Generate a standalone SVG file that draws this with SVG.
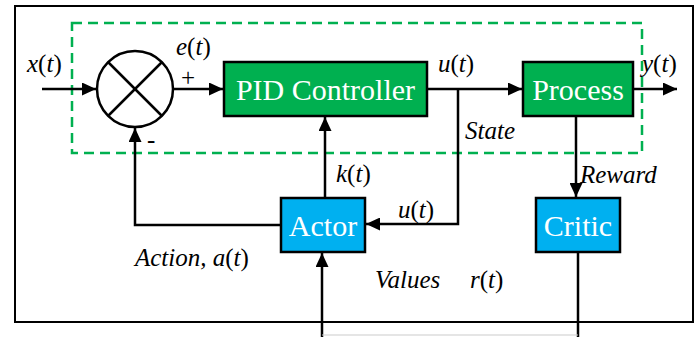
<svg xmlns="http://www.w3.org/2000/svg" width="700" height="337" viewBox="0 0 700 337">
<defs>
<marker id="ar" markerUnits="userSpaceOnUse" markerWidth="15" markerHeight="13" refX="14" refY="6.5" orient="auto">
<path d="M0,0 L14,6.5 L0,13 z" fill="#000"/>
</marker>
</defs>
<rect x="0" y="0" width="700" height="337" fill="#fff"/>
<rect x="15" y="6" width="678" height="316" fill="none" stroke="#000" stroke-width="2"/>
<rect x="72" y="23" width="570" height="130" fill="none" stroke="#00b050" stroke-width="2.5" stroke-dasharray="10,6"/>
<g id="connectors" fill="none" stroke="#000" stroke-width="2.5">
<line x1="42" y1="89" x2="96" y2="89" marker-end="url(#ar)"/>
<line x1="173" y1="89" x2="223" y2="89" marker-end="url(#ar)"/>
<line x1="427" y1="89" x2="522" y2="89" marker-end="url(#ar)"/>
<line x1="633" y1="89" x2="677" y2="89" marker-end="url(#ar)"/>
<polyline points="458,89 458,224 366,224" marker-end="url(#ar)"/>
<line x1="576" y1="116" x2="576" y2="197" marker-end="url(#ar)"/>
<line x1="325" y1="198" x2="325" y2="117" marker-end="url(#ar)"/>
<polyline points="281,225 135,225 135,128" marker-end="url(#ar)"/>
<line x1="322" y1="337" x2="322" y2="253" marker-end="url(#ar)"/>
<line x1="578" y1="252" x2="578" y2="337"/>
<line x1="322" y1="335" x2="578" y2="335" stroke="#cccccc" stroke-width="1.2"/>
</g>
<g id="sum" stroke="#000" stroke-width="2.5">
<circle cx="135" cy="89" r="38" fill="#fff"/>
<line x1="108" y1="62" x2="162" y2="116"/>
<line x1="162" y1="62" x2="108" y2="116"/>
</g>
<g id="pid">
<rect x="224" y="62" width="203" height="54" fill="#00b050" stroke="#000" stroke-width="2.5"/>
<text x="325.5" y="100" font-family="Liberation Serif" font-size="30" fill="#fff" text-anchor="middle">PID Controller</text>
</g>
<g id="process">
<rect x="523" y="62" width="110" height="54" fill="#00b050" stroke="#000" stroke-width="2.5"/>
<text x="578" y="100" font-family="Liberation Serif" font-size="30" fill="#fff" text-anchor="middle">Process</text>
</g>
<g id="actor">
<rect x="281" y="198" width="84" height="54" fill="#00b0f0" stroke="#000" stroke-width="2.5"/>
<text x="323" y="236" font-family="Liberation Serif" font-size="30" fill="#fff" text-anchor="middle">Actor</text>
</g>
<g id="critic">
<rect x="536" y="198" width="84" height="54" fill="#00b0f0" stroke="#000" stroke-width="2.5"/>
<text x="578" y="236" font-family="Liberation Serif" font-size="30" fill="#fff" text-anchor="middle">Critic</text>
</g>
<g id="labels" fill="#000">
<text x="27" y="72" font-family="Liberation Serif" font-size="25"><tspan font-style="italic">x</tspan>(<tspan font-style="italic">t</tspan>)</text>
<text x="176" y="55" font-family="Liberation Serif" font-size="25"><tspan font-style="italic">e</tspan>(<tspan font-style="italic">t</tspan>)</text>
<text x="188" y="86" text-anchor="middle" font-family="Liberation Serif" font-size="25">+</text>
<text x="147" y="148" font-family="Liberation Serif" font-size="25">-</text>
<text x="438" y="72" font-family="Liberation Serif" font-size="25"><tspan font-style="italic">u</tspan>(<tspan font-style="italic">t</tspan>)</text>
<text x="642" y="72" font-family="Liberation Serif" font-size="25"><tspan font-style="italic">y</tspan>(<tspan font-style="italic">t</tspan>)</text>
<text x="465" y="139" font-family="Liberation Serif" font-size="25" font-style="italic">State</text>
<text x="336" y="182" font-family="Liberation Serif" font-size="25"><tspan font-style="italic">k</tspan>(<tspan font-style="italic">t</tspan>)</text>
<text x="398" y="218" font-family="Liberation Serif" font-size="25"><tspan font-style="italic">u</tspan>(<tspan font-style="italic">t</tspan>)</text>
<text x="580" y="183" font-family="Liberation Serif" font-size="25" font-style="italic">Reward</text>
<text x="135" y="266" font-family="Liberation Serif" font-size="25"><tspan font-style="italic">Action, a</tspan>(<tspan font-style="italic">t</tspan>)</text>
<text x="375" y="288" font-family="Liberation Serif" font-size="25" font-style="italic">Values</text>
<text x="470" y="288" font-family="Liberation Serif" font-size="25"><tspan font-style="italic">r</tspan>(<tspan font-style="italic">t</tspan>)</text>
</g>
</svg>
